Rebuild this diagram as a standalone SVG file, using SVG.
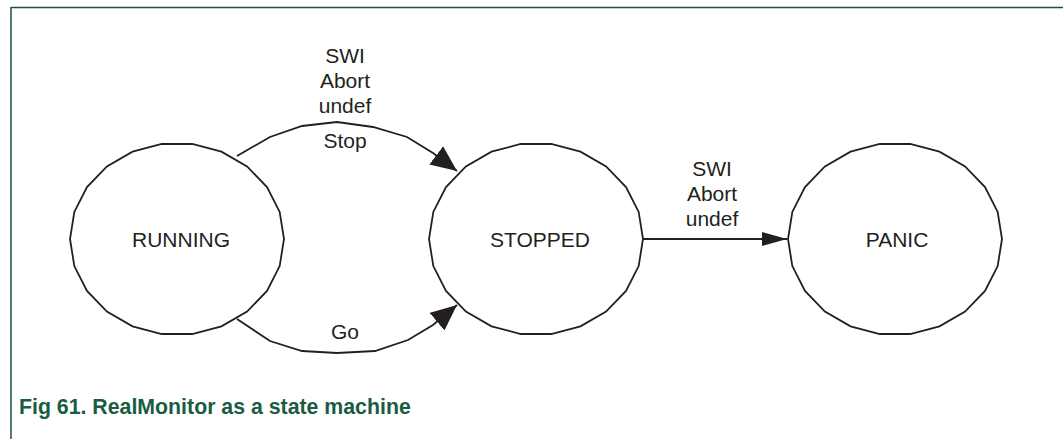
<svg xmlns="http://www.w3.org/2000/svg" width="1063" height="439" viewBox="0 0 1063 439">
<style>
.frame{fill:none;stroke:#1b5240;stroke-width:1.5}
.state{fill:#fff;stroke:#231f20;stroke-width:1.8}
.conn{fill:none;stroke:#231f20;stroke-width:1.8}
.lbl{font-family:"Liberation Sans",Arial,sans-serif;font-size:21px;fill:#231f20;text-anchor:middle}
.cap{font-family:"Liberation Sans",Arial,sans-serif;font-size:21.3px;font-weight:bold;fill:#1a5c42}
</style>
<defs>
<polygon id="oct" points="107,0 102.67,-27.05 90.01,-51.9 70.07,-72.55 44.45,-87.32 15.23,-95.02 -15.23,-95.02 -44.45,-87.32 -70.07,-72.55 -90.01,-51.9 -102.67,-27.05 -107,0 -102.67,27.05 -90.01,51.9 -70.07,72.55 -44.45,87.32 -15.23,95.02 15.23,95.02 44.45,87.32 70.07,72.55 90.01,51.9 102.67,27.05"/>
<marker id="arrBig" viewBox="0 0 26 23" markerWidth="26" markerHeight="23" refX="26" refY="11.5" orient="auto" markerUnits="userSpaceOnUse"><path d="M0,0 L26,11.5 L0,23 z" fill="#231f20"/></marker>
<marker id="arrSmall" viewBox="0 0 25 14" markerWidth="25" markerHeight="14" refX="25" refY="7" orient="auto" markerUnits="userSpaceOnUse"><path d="M0,0 L25,7 L0,14 z" fill="#231f20"/></marker>
</defs>
<g id="frame">
<path class="frame" d="M11,7.5 H1063 M11,7 V439"/>
</g>
<g id="running">
<use href="#oct" class="state" transform="translate(177,239)"/>
<text class="lbl" x="181" y="247">RUNNING</text>
</g>
<g id="stopped">
<use href="#oct" class="state" transform="translate(536,239)"/>
<text class="lbl" x="540" y="247">STOPPED</text>
</g>
<g id="panic">
<use href="#oct" class="state" transform="translate(895,239)"/>
<text class="lbl" x="897" y="247">PANIC</text>
</g>
<g id="connectors">
<polyline class="conn" points="237,156 270,137 302,126 337,122 373,127 407,137 433,153 457,171" marker-end="url(#arrBig)"/>
<polyline class="conn" points="237,319 270,341 302,351 337,353 375,351 408,340 433,325 457,305" marker-end="url(#arrBig)"/>
<line class="conn" x1="643" y1="239" x2="787" y2="239" marker-end="url(#arrSmall)"/>
</g>
<g id="labels">
<text class="lbl" x="345" y="63">SWI</text>
<text class="lbl" x="345" y="88">Abort</text>
<text class="lbl" x="345" y="113">undef</text>
<text class="lbl" x="345" y="148">Stop</text>
<text class="lbl" x="345" y="339">Go</text>
<text class="lbl" x="712" y="176">SWI</text>
<text class="lbl" x="712" y="201">Abort</text>
<text class="lbl" x="712" y="226">undef</text>
</g>
<text class="cap" x="19" y="414">Fig 61.  RealMonitor as a state machine</text>
</svg>
